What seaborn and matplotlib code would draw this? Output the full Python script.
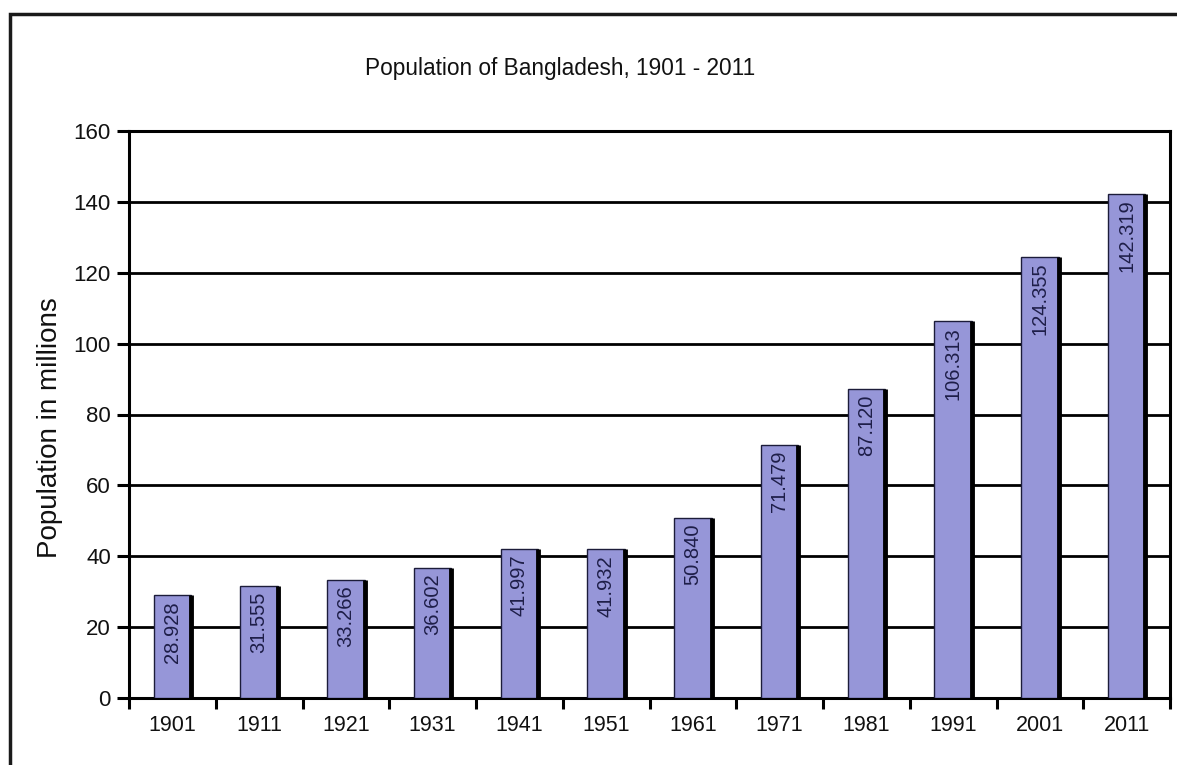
import matplotlib
matplotlib.use("Agg")
import matplotlib.pyplot as plt
import matplotlib.patches as mpatches
import seaborn as sns
import pandas as pd

years = ["1901", "1911", "1921", "1931", "1941", "1951",
         "1961", "1971", "1981", "1991", "2001", "2011"]
population = [28.928, 31.555, 33.266, 36.602, 41.997, 41.932,
              50.840, 71.479, 87.120, 106.313, 124.355, 142.319]

df = pd.DataFrame({"year": years, "population": population})

sns.set_theme(style="white")
plt.rcParams["font.family"] = ["Liberation Sans", "DejaVu Sans"]

W, H = 1177, 765
fig = plt.figure(figsize=(W / 100, H / 100), dpi=100)
fig.patch.set_facecolor("white")

left, right, top, bottom = 129, 1170, 131, 698
ax = fig.add_axes([left / W, 1 - bottom / H, (right - left) / W, (bottom - top) / H])

bar_color = "#9696d8"
sns.barplot(data=df, x="year", y="population", ax=ax, color=bar_color,
            width=0.43, edgecolor="#1c1c3a", linewidth=1.0, saturation=1,
            zorder=3)

ax.set_ylim(0, 160)
ax.set_xlim(-0.5, len(years) - 0.5)
ax.set_yticks(range(0, 161, 20))
ax.yaxis.grid(True, color="black", linewidth=2.0, zorder=1)
ax.set_axisbelow(True)
ax.set_xlabel("")
ax.set_ylabel("")

for side in ["left", "right", "top", "bottom"]:
    ax.spines[side].set_visible(True)
    ax.spines[side].set_color("black")
    ax.spines[side].set_linewidth(2.2)

# x ticks sit between categories; labels on category centres
ax.set_xticks(range(len(years)))
ax.set_xticklabels(years)
ax.set_xticks([i - 0.5 for i in range(len(years) + 1)], minor=True)
ax.tick_params(axis="x", which="major", length=0, pad=12, labelsize=15.5,
               colors="#111111")
ax.tick_params(axis="x", which="minor", length=8, width=2.2, color="black",
               direction="out", bottom=True)
ax.tick_params(axis="y", which="major", length=9, width=2.2, color="black",
               direction="out", left=True, pad=4, labelsize=16,
               labelcolor="#111111")

# dark shadow along the right edge of each bar and value labels near the top
for patch, val in zip(ax.patches, population):
    x0 = patch.get_x()
    w = patch.get_width()
    h = patch.get_height()
    ax.plot([x0 + w, x0 + w], [0, h], color="black", linewidth=3.5,
            solid_capstyle="butt", zorder=4)
    ax.annotate(f"{val:.3f}", xy=(x0 + w / 2, h), xytext=(0, -4),
                textcoords="offset points", rotation=90, ha="center",
                va="top", fontsize=14.5, color="#1e1e48", zorder=5)

fig.text(560 / W, 1 - 68 / H, "Population of Bangladesh, 1901 - 2011",
         ha="center", va="center", fontsize=16.3, color="#111111")
fig.text(50 / W, 1 - 428 / H, "Population in millions", rotation=90,
         ha="center", va="center", fontsize=20, color="#111111")

# outer frame running off the right and bottom edges
frame = mpatches.Rectangle((10 / W, -0.05), 1.1, 1 - 14 / H + 0.05,
                           transform=fig.transFigure, fill=False,
                           edgecolor="#1a1a1a", linewidth=2.5, clip_on=False)
fig.add_artist(frame)

fig.savefig("out.png", dpi=100, facecolor="white")
